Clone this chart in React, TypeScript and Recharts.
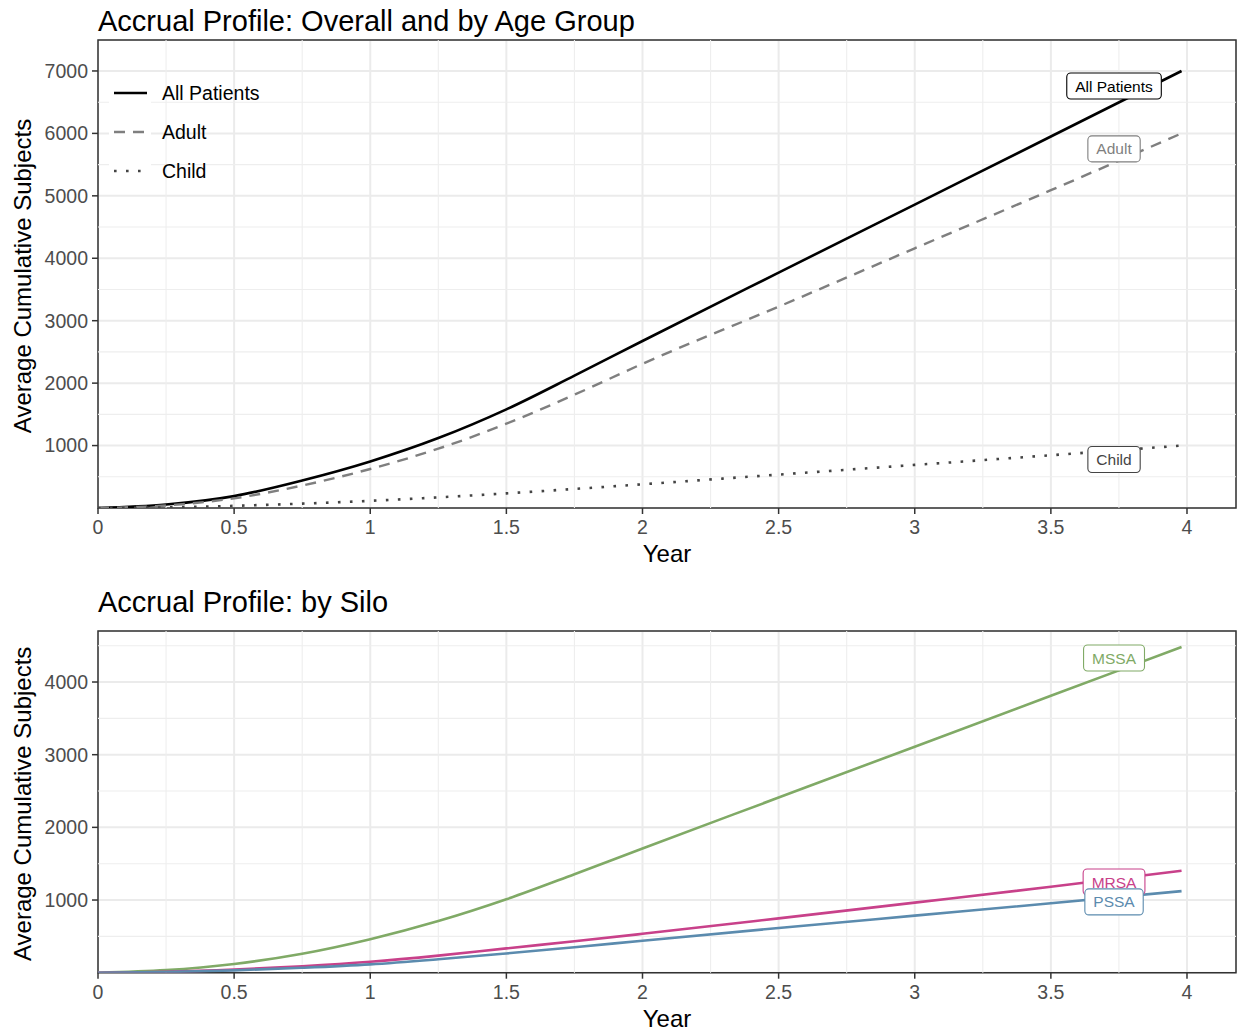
import React from 'react';
import {
  LineChart,
  Line,
  XAxis,
  YAxis,
  CartesianGrid,
  ReferenceLine,
  ReferenceArea,
  ReferenceDot,
} from 'recharts';

const FONT = '"Liberation Sans", Arial, Helvetica, sans-serif';

// Time in years since accrual start
const years = [0, 0.25, 0.5, 0.75, 1, 1.25, 1.5, 1.75, 2, 2.5, 3, 3.5, 3.98];

// Average cumulative subjects, overall and by age group
const allPatients = [0, 55, 190, 440, 745, 1120, 1580, 2120, 2675, 3770, 4860, 5950, 7000];
const adult = [0, 40, 155, 360, 625, 950, 1350, 1815, 2310, 3225, 4160, 5090, 6000];
const child = [0, 10, 35, 70, 115, 170, 235, 305, 380, 535, 690, 845, 1000];

// Average cumulative subjects by silo
const mssa = [0, 35, 120, 260, 460, 710, 1010, 1355, 1710, 2410, 3110, 3810, 4482];
const mrsa = [0, 12, 42, 88, 150, 235, 335, 432, 535, 748, 964, 1182, 1402];
const pssa = [0, 10, 32, 68, 115, 185, 265, 350, 440, 615, 785, 955, 1122];

// Axis breaks
const xTicks = [0, 0.5, 1, 1.5, 2, 2.5, 3, 3.5, 4];
const xMinor = [0.25, 0.75, 1.25, 1.75, 2.25, 2.75, 3.25, 3.75];
const yTicksAge = [1000, 2000, 3000, 4000, 5000, 6000, 7000];
const yMinorAge = [500, 1500, 2500, 3500, 4500, 5500, 6500];
const yTicksSilo = [1000, 2000, 3000, 4000];
const yMinorSilo = [500, 1500, 2500, 3500, 4500];

const X_MAX = 4.18;
const W = 1238;

type SeriesDef = {
  key: string;
  name: string;
  color: string;
  dash?: string;
  width: number;
};

type Anchor = { key: string; x: number; y: number };

const ageSeries: SeriesDef[] = [
  { key: 'all', name: 'All Patients', color: '#000000', width: 2.6 },
  { key: 'adult', name: 'Adult', color: '#7F7F7F', dash: '11 8', width: 2.4 },
  { key: 'child', name: 'Child', color: '#444444', dash: '2.6 9.4', width: 2.6 },
];

const siloSeries: SeriesDef[] = [
  { key: 'mssa', name: 'MSSA', color: '#80AA66', width: 2.6 },
  { key: 'mrsa', name: 'MRSA', color: '#C8418A', width: 2.6 },
  { key: 'pssa', name: 'PSSA', color: '#5B8BAE', width: 2.6 },
];

// Where each series name tag sits, in data units
const ageAnchors: Anchor[] = [
  { key: 'all', x: 3.732, y: 6760 },
  { key: 'adult', x: 3.732, y: 5752 },
  { key: 'child', x: 3.732, y: 776 },
];
const siloAnchors: Anchor[] = [
  { key: 'mssa', x: 3.732, y: 4331 },
  { key: 'mrsa', x: 3.732, y: 1249 },
  { key: 'pssa', x: 3.732, y: 974 },
];

const ageData = years.map((t, i) => ({
  year: t,
  all: allPatients[i],
  adult: adult[i],
  child: child[i],
}));
const siloData = years.map((t, i) => ({
  year: t,
  mssa: mssa[i],
  mrsa: mrsa[i],
  pssa: pssa[i],
}));

let measureCtx: CanvasRenderingContext2D | null = null;
function textWidth(text: string, size: number): number {
  if (!measureCtx) {
    try {
      measureCtx = document.createElement('canvas').getContext('2d');
    } catch {
      measureCtx = null;
    }
  }
  if (!measureCtx) return text.length * size * 0.56;
  measureCtx.font = `${size}px "Liberation Sans"`;
  return measureCtx.measureText(text).width;
}

function NameTag({ cx, cy, text, color }: { cx: number; cy: number; text: string; color: string }) {
  const size = 15.5;
  const w = textWidth(text, size) + 17;
  const h = 26;
  return (
    <g>
      <rect x={cx - w / 2} y={cy - h / 2} width={w} height={h} rx={4} ry={4} fill="#FFFFFF" stroke={color} strokeWidth={1.1} />
      <text x={cx} y={cy + size * 0.36} textAnchor="middle" fontSize={size} fontFamily={FONT} fill={color}>
        {text}
      </text>
    </g>
  );
}

const tickStyle = { fill: '#4D4D4D', fontSize: 19.5, fontFamily: FONT };
const AXIS_TITLE_SIZE = 24;

function XTitle(props: any) {
  const vb = props.viewBox || {};
  return (
    <text x={vb.x + vb.width / 2} y={vb.y + 54} textAnchor="middle" fontSize={AXIS_TITLE_SIZE} fontFamily={FONT} fill="#000000">
      Year
    </text>
  );
}

function YTitle(props: any) {
  const vb = props.viewBox || {};
  const cy = vb.y + vb.height / 2 + 2;
  const x = 31;
  return (
    <text x={x} y={cy} transform={`rotate(-90, ${x}, ${cy})`} textAnchor="middle" fontSize={AXIS_TITLE_SIZE} fontFamily={FONT} fill="#000000">
      Average Cumulative Subjects
    </text>
  );
}

type PanelProps = {
  top: number;
  height: number;
  marginTop: number;
  plotHeight: number;
  yMax: number;
  data: any[];
  series: SeriesDef[];
  yTicks: number[];
  yMinor: number[];
  anchors: Anchor[];
};

function Panel({ top, height, marginTop, plotHeight, yMax, data, series, yTicks, yMinor, anchors }: PanelProps) {
  const xAxisHeight = height - marginTop - plotHeight;
  return (
    <div style={{ position: 'absolute', left: 0, top, width: W, height }}>
      <LineChart width={W} height={height} data={data} margin={{ top: marginTop, right: 2, bottom: 0, left: 0 }}>
        <CartesianGrid stroke="#EBEBEB" strokeWidth={2} />
        {xMinor.map((v) => (
          <ReferenceLine key={`xm${v}`} x={v} stroke="#EEEEEE" strokeWidth={1.1} />
        ))}
        {yMinor.map((v) => (
          <ReferenceLine key={`ym${v}`} y={v} stroke="#EEEEEE" strokeWidth={1.1} />
        ))}
        <XAxis
          type="number"
          dataKey="year"
          domain={[0, X_MAX]}
          ticks={xTicks}
          interval={0}
          allowDataOverflow
          height={xAxisHeight}
          tickSize={6}
          tickMargin={6}
          axisLine={false}
          tickLine={{ stroke: '#333333', strokeWidth: 1.5 }}
          tick={tickStyle}
          tickFormatter={(v: number) => String(v)}
          label={{ content: XTitle }}
        />
        <YAxis
          type="number"
          domain={[0, yMax]}
          ticks={yTicks}
          interval={0}
          allowDataOverflow
          width={98}
          tickSize={6}
          tickMargin={4}
          axisLine={false}
          tickLine={{ stroke: '#333333', strokeWidth: 1.5 }}
          tick={tickStyle}
          label={{ content: YTitle }}
        />
        {series.map((s) => (
          <Line
            key={s.key}
            dataKey={s.key}
            name={s.name}
            type="monotone"
            stroke={s.color}
            strokeWidth={s.width}
            strokeDasharray={s.dash}
            dot={false}
            activeDot={false}
            isAnimationActive={false}
          />
        ))}
        <ReferenceArea x1={0} x2={X_MAX} y1={0} y2={yMax} fill="none" stroke="#333333" strokeWidth={1.5} ifOverflow="visible" />
        {anchors.map((a) => {
          const s = series.find((d) => d.key === a.key)!;
          return (
            <ReferenceDot
              key={`tag${a.key}`}
              x={a.x}
              y={a.y}
              r={0}
              ifOverflow="visible"
              shape={(p: any) => <NameTag cx={p.cx} cy={p.cy} text={s.name} color={s.color} />}
            />
          );
        })}
      </LineChart>
    </div>
  );
}

function AgeLegend() {
  const rows = ageSeries.map((s, i) => ({ s, cy: 93 + i * 39 }));
  return (
    <g>
      <rect x={109} y={74} width={42} height={117} fill="#FFFFFF" />
      {rows.map(({ s, cy }) => (
        <g key={s.key}>
          <line x1={114} x2={147} y1={cy} y2={cy} stroke={s.color} strokeWidth={s.width} strokeDasharray={s.dash} />
          <text x={162} y={cy + 7} fontSize={19.5} fontFamily={FONT} fill="#000000">
            {s.name}
          </text>
        </g>
      ))}
    </g>
  );
}

export default function App() {
  return (
    <div style={{ position: 'absolute', left: 0, top: 0, width: W, height: 1032, background: '#FFFFFF', overflow: 'hidden' }}>
      <Panel
        top={0}
        height={570}
        marginTop={40}
        plotHeight={468}
        yMax={7496}
        data={ageData}
        series={ageSeries}
        yTicks={yTicksAge}
        yMinor={yMinorAge}
        anchors={ageAnchors}
      />
      <Panel
        top={580}
        height={452}
        marginTop={51}
        plotHeight={341.7}
        yMax={4702}
        data={siloData}
        series={siloSeries}
        yTicks={yTicksSilo}
        yMinor={yMinorSilo}
        anchors={siloAnchors}
      />
      <svg width={W} height={1032} style={{ position: 'absolute', left: 0, top: 0, pointerEvents: 'none' }}>
        <text x={98} y={31} fontSize={29} fontFamily={FONT} fill="#000000">
          Accrual Profile: Overall and by Age Group
        </text>
        <text x={98} y={612} fontSize={29} fontFamily={FONT} fill="#000000">
          Accrual Profile: by Silo
        </text>
        <AgeLegend />
      </svg>
    </div>
  );
}
